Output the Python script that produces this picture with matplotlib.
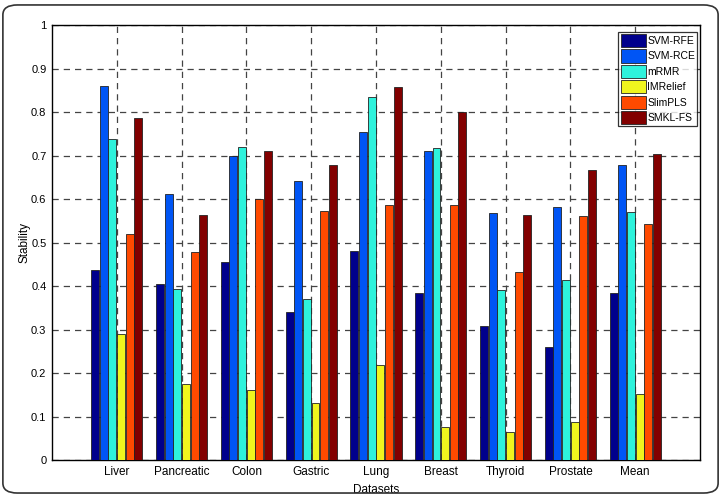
import numpy as np
import matplotlib
matplotlib.use('Agg')
import matplotlib.pyplot as plt
from matplotlib.patches import FancyBboxPatch

plt.rcParams['font.family'] = ['Liberation Sans', 'DejaVu Sans']

# 数据
datasets = ['Liver', 'Pancreatic', 'Colon', 'Gastric', 'Lung', 'Breast',
            'Thyroid', 'Prostate', 'Mean']
methods = ['SVM-RFE', 'SVM-RCE', 'mRMR', 'IMRelief', 'SlimPLS', 'SMKL-FS']

svm_rfe = [0.438, 0.406, 0.456, 0.341, 0.480, 0.385, 0.309, 0.261, 0.385]
svm_rce = [0.860, 0.612, 0.699, 0.643, 0.756, 0.710, 0.568, 0.582, 0.679]
mrmr = [0.738, 0.393, 0.721, 0.370, 0.835, 0.717, 0.392, 0.415, 0.571]
imrelief = [0.290, 0.176, 0.161, 0.132, 0.219, 0.077, 0.065, 0.088, 0.152]
slimpls = [0.521, 0.478, 0.600, 0.574, 0.587, 0.587, 0.433, 0.561, 0.543]
smkl_fs = [0.788, 0.565, 0.710, 0.679, 0.858, 0.801, 0.564, 0.668, 0.704]

series = [svm_rfe, svm_rce, mrmr, imrelief, slimpls, smkl_fs]
colors = ['#00008c', '#0055f5', '#2ef2dc', '#f0f51e', '#ff4a00', '#820000']

fig = plt.figure(figsize=(7.21, 4.96), dpi=100)

# 外框（圆角）
frame = FancyBboxPatch((0.004, 0.006), 0.992, 0.984,
                       boxstyle='round,pad=0,rounding_size=0.02',
                       transform=fig.transFigure, fill=False,
                       edgecolor='#333333', linewidth=1.2)
fig.patches.append(frame)

ax = fig.add_axes([0.0721, 0.0726, 0.8988, 0.876])

x = np.arange(1, len(datasets) + 1)
n = len(series)
step = 0.8 / n
for i, (vals, c, name) in enumerate(zip(series, colors, methods)):
    offs = (i - (n - 1) / 2) * step
    ax.bar(x + offs, vals, width=step * 0.92, color=c, edgecolor='#222222',
           linewidth=0.6, label=name, zorder=3)

ax.set_xlim(0, 10)
ax.set_ylim(0, 1)
ax.set_xticks(x)
ax.set_xticklabels(datasets, fontsize=8.5)
ax.set_yticks(np.arange(0, 1.01, 0.1))
ax.set_yticklabels(['0', '0.1', '0.2', '0.3', '0.4', '0.5', '0.6', '0.7',
                    '0.8', '0.9', '1'], fontsize=8)
ax.tick_params(direction='in', length=0, pad=4)

ax.set_axisbelow(True)
ax.grid(True, color='#444444', linestyle=(0, (5, 4)), linewidth=0.9)

ax.set_xlabel('Datasets', fontsize=8.5, labelpad=5)
ax.set_ylabel('Stability', fontsize=8.5)
ax.yaxis.set_label_coords(-0.033, 0.5)

for s in ax.spines.values():
    s.set_linewidth(1.0)
    s.set_color('black')

leg = ax.legend(loc='upper right', bbox_to_anchor=(0.9955, 0.986),
                fontsize=7.5, frameon=True, fancybox=False,
                handlelength=2.4, handleheight=1.6, handletextpad=0.15,
                labelspacing=0.2, borderpad=0.2, borderaxespad=0)
leg.get_frame().set_edgecolor('black')
leg.get_frame().set_linewidth(0.9)

fig.savefig('out.png', dpi=100)
